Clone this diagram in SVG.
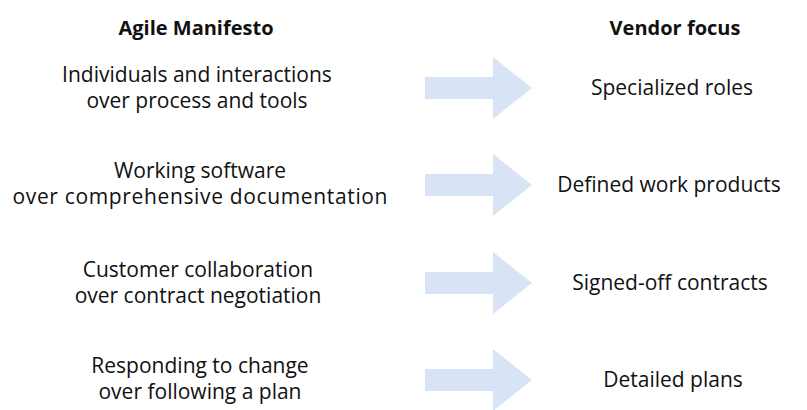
<svg xmlns="http://www.w3.org/2000/svg" width="807" height="410" viewBox="0 0 807 410">
<defs>
<style>
text{font-family:"Open Sans","Noto Sans",sans-serif;font-size:21px;fill:#111;text-anchor:middle}
.h{font-weight:bold;font-size:20px}
.arrow{fill:#d8e4f5}
</style>
<path id="arr" class="arrow" d="M425,-11 H493 V-31 L532,0 L493,31 V11 H425 Z"/>
</defs>
<rect width="807" height="410" fill="#fff"/>
<g id="headers">
<text class="h" x="196" y="35">Agile Manifesto</text>
<text class="h" x="675" y="35">Vendor focus</text>
</g>
<g id="connectors">
<use href="#arr" y="88"/>
<use href="#arr" y="185"/>
<use href="#arr" y="283"/>
<use href="#arr" y="380"/>
</g>
<g id="agile1"><text x="197" y="82">Individuals and interactions</text><text x="197" y="108">over process and tools</text></g>
<g id="agile2"><text x="200" y="178">Working software</text><text x="200" y="204" textLength="375" lengthAdjust="spacing">over comprehensive documentation</text></g>
<g id="agile3"><text x="198" y="277">Customer collaboration</text><text x="198" y="303">over contract negotiation</text></g>
<g id="agile4"><text x="200" y="373">Responding to change</text><text x="200" y="399">over following a plan</text></g>
<g id="vendor1"><text x="672" y="95">Specialized roles</text></g>
<g id="vendor2"><text x="669" y="192">Defined work products</text></g>
<g id="vendor3"><text x="670" y="290">Signed-off contracts</text></g>
<g id="vendor4"><text x="673" y="387">Detailed plans</text></g>
</svg>
